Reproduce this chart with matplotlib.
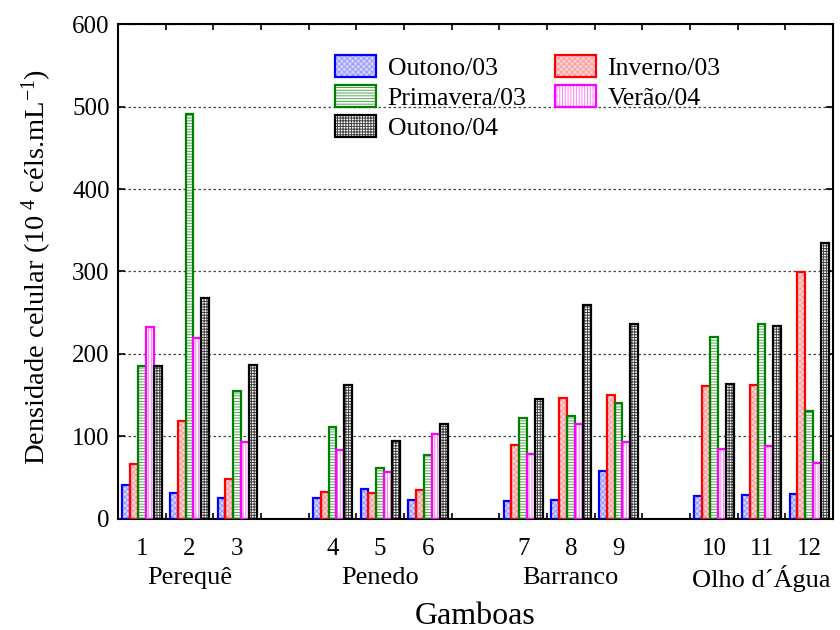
import numpy as np
import matplotlib
matplotlib.use("Agg")
import matplotlib.pyplot as plt

plt.rcParams['font.family'] = ['Liberation Serif', 'DejaVu Serif']
plt.rcParams['mathtext.fontset'] = 'custom'
plt.rcParams['mathtext.rm'] = 'Liberation Serif'
plt.rcParams['mathtext.it'] = 'Liberation Serif:italic'
plt.rcParams['hatch.linewidth'] = 0.7

# Cell density per gamboa (10^4 cells/mL), one list per season
gamboas = ['1', '2', '3', '4', '5', '6', '7', '8', '9', '10', '11', '12']
groups = ['Perequê', 'Penedo', 'Barranco', 'Olho d´Água']
seasons = ['Outono/03', 'Inverno/03', 'Primavera/03', 'Verão/04', 'Outono/04']

outono03 = [41, 31, 26, 26, 36, 23, 22, 23, 58, 28, 29, 30]
inverno03 = [67, 119, 48, 33, 31, 35, 90, 147, 150, 161, 163, 299]
primavera03 = [185, 491, 155, 112, 62, 78, 123, 125, 141, 220, 236, 131]
verao04 = [233, 219, 93, 84, 57, 103, 79, 115, 93, 85, 88, 68]
outono04 = [185, 268, 187, 162, 95, 115, 146, 259, 236, 164, 234, 334]

series = [outono03, inverno03, primavera03, verao04, outono04]

# edge colour, fill colour, hatch colour, hatch pattern
styles = [
    ('#0000ff', '#d4d4ff', '#9a9aff', 'xxxxxx'),
    ('#ff0000', '#ffd4d4', '#ff9a9a', 'xxxxxx'),
    ('#008000', '#ffffff', '#50a850', '------'),
    ('#ff00ff', '#ffffff', '#ff80ff', '||||||'),
    ('#000000', '#ffffff', '#404040', '++++++'),
]

# slots 4, 8 and 12 are left empty to separate the groups
pos = np.array([1, 2, 3, 5, 6, 7, 9, 10, 11, 13, 14, 15])
group_pos = [2, 6, 10, 14]
width = 0.165

fig = plt.figure(figsize=(8.4, 6.3), dpi=100)
ax = fig.add_axes([0.1405, 0.1762, 0.8512, 0.7857])

handles = []
for i, (vals, st) in enumerate(zip(series, styles)):
    edge, face, hcol, hatch = st
    x = pos + (i - 2) * width
    ax.bar(x, vals, width, color=face, edgecolor=hcol, hatch=hatch,
           linewidth=0, zorder=2)
    ax.bar(x, vals, width, fill=False, edgecolor=edge, linewidth=1.6, zorder=3)
    h = plt.Rectangle((0, 0), 1, 1, facecolor=face, edgecolor=hcol, hatch=hatch, linewidth=0)
    h2 = plt.Rectangle((0, 0), 1, 1, fill=False, edgecolor=edge, linewidth=1.6)
    handles.append((h, h2))

ax.set_xlim(0.5, 15.5)
ax.set_ylim(0, 600)
ax.set_yticks(np.arange(0, 601, 100))
ax.set_xticks(pos)
ax.set_xticklabels(gamboas)
ax.set_xticks(np.arange(1.5, 15.0, 1.0), minor=True)

ax.tick_params(axis='x', which='major', length=0, pad=14, labelsize=18)
ax.tick_params(axis='x', which='minor', direction='in', length=4, width=1.2,
               top=True, bottom=True)
ax.tick_params(axis='y', direction='in', length=5, width=1.2, labelsize=18,
               left=True, right=True, pad=6)

for s in ax.spines.values():
    s.set_linewidth(1.5)

ax.yaxis.grid(True, linestyle=(0, (2, 2)), color='#444444', linewidth=0.9, zorder=0)
ax.set_axisbelow(True)

for gp, name in zip(group_pos, groups):
    ax.text(gp, -0.12, name, transform=ax.get_xaxis_transform(),
            ha='center', va='center', fontsize=19)

ax.set_xlabel('Gamboas', fontsize=23, labelpad=30)
ax.set_ylabel('Densidade celular (10$^{\\ 4}$ céls.mL$^{-1}$)', fontsize=20.5)
ax.yaxis.set_label_coords(-0.089, 0.51)

# legend filled row by row: reorder so column-major filling reads across
order = [0, 2, 4, 1, 3]
ax.legend([handles[k] for k in order], [seasons[k] for k in order], ncol=2,
          frameon=False, fontsize=18.5,
          loc='upper left', bbox_to_anchor=(0.3035, 0.937),
          handlelength=1.6, handleheight=0.95, handletextpad=0.45,
          labelspacing=0.2, columnspacing=1.1, borderpad=0, borderaxespad=0)

fig.savefig('out.png', dpi=100)
